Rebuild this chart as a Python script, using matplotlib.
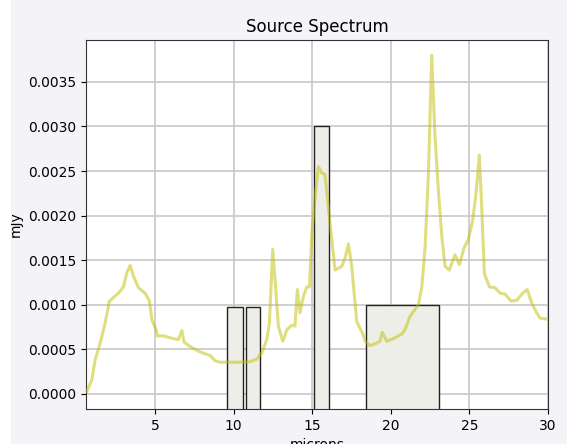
import matplotlib
matplotlib.use("Agg")
import matplotlib.pyplot as plt
from matplotlib.patches import Rectangle

# source spectrum, wavelength in microns and flux in mJy
wave = [0.65, 0.97, 1.18, 1.5, 1.82, 2.09, 2.35, 2.77, 2.98, 3.2, 3.41, 3.62,
        3.94, 4.36, 4.64, 4.79, 5.06, 5.15, 5.53, 6.16, 6.48, 6.70, 6.84,
        7.23, 7.86, 8.5, 8.82, 9.13, 10.2, 11.04, 11.47, 11.79, 12.1, 12.27,
        12.48, 12.63, 12.84, 13.12, 13.38, 13.7, 13.9, 14.05, 14.22, 14.43,
        14.65, 14.82, 14.97, 15.18, 15.39, 15.6, 15.81, 16.13, 16.45, 16.87,
        17.08, 17.3, 17.51, 17.83, 18.25, 18.36, 18.67, 19.1, 19.31, 19.46,
        19.74, 20.16, 20.69, 20.9, 21.22, 21.75, 21.97, 22.18, 22.39, 22.6,
        22.81, 23.02, 23.24, 23.45, 23.72, 24.08, 24.36, 24.66, 24.93, 25.21,
        25.42, 25.63, 25.78, 25.95, 26.27, 26.63, 26.95, 27.26, 27.65, 28.01,
        28.39, 28.68, 28.96, 29.28, 29.49, 29.85]
flux = [0.000026, 0.000157, 0.00038, 0.00057, 0.0008, 0.00104, 0.00108,
        0.00115, 0.0012, 0.00136, 0.00144, 0.00132, 0.00119, 0.00113, 0.00104,
        0.00083, 0.00072, 0.00065, 0.00065, 0.00062, 0.00061, 0.00071, 0.00058,
        0.00053, 0.00047, 0.00043, 0.00037, 0.000355, 0.000355, 0.00036,
        0.00039, 0.00046, 0.00061, 0.00079, 0.00162, 0.00128, 0.00076, 0.00059,
        0.00072, 0.00077, 0.00076, 0.00117, 0.00091, 0.00109, 0.0012, 0.0012,
        0.0018, 0.00221, 0.00255, 0.00248, 0.00246, 0.00191, 0.00139, 0.00143,
        0.00152, 0.00168, 0.00143, 0.00081, 0.00066, 0.00059, 0.00054, 0.00057,
        0.00059, 0.00069, 0.00059, 0.00062, 0.00067, 0.00072, 0.00087, 0.001,
        0.0012, 0.00165, 0.00248, 0.0038, 0.00289, 0.00229, 0.00177, 0.00143,
        0.00139, 0.00156, 0.00145, 0.00164, 0.00173, 0.00195, 0.00225, 0.00268,
        0.0021, 0.00135, 0.0012, 0.00119, 0.00113, 0.00112, 0.00104, 0.00105,
        0.00113, 0.00117, 0.00102, 0.00091, 0.00085, 0.00084]

# filter bands: lower edge, upper edge, level
band_lo = [9.55, 10.75, 15.08, 18.4]
band_hi = [10.6, 11.7, 16.05, 23.05]
band_level = [0.00098, 0.00098, 0.003, 0.001]

fig = plt.figure(figsize=(5.67, 4.44), dpi=100, facecolor='#f4f4f8')
fig.patches.append(Rectangle((0, 0), 11 / 567, 1, transform=fig.transFigure,
                             facecolor='white', edgecolor='none', zorder=0))
ax = fig.add_axes([0.1517, 0.0788, 0.8148, 0.8311])

for lo, hi, lev in zip(band_lo, band_hi, band_level):
    ax.bar(lo, lev + 0.01, width=hi - lo, bottom=-0.01, align='edge',
           facecolor='#eeeee8', edgecolor='#222222', linewidth=1, zorder=2)

ax.plot(wave, flux, color='y', alpha=0.5, linewidth=2.2, zorder=3)

ax.set_xlim(0.6, 30)
ax.set_ylim(-0.00017, 0.00397)
ax.set_yticks([0, 0.0005, 0.001, 0.0015, 0.002, 0.0025, 0.003, 0.0035])
ax.grid(True, color='#c8c8c8', linewidth=1.2, zorder=0)
ax.set_axisbelow(True)
for sp in ax.spines.values():
    sp.set_color('#333333')
ax.set_title('Source Spectrum')
ax.set_xlabel('microns')
ax.set_ylabel('mJy')

plt.savefig('out.png', dpi=100, facecolor=fig.get_facecolor())
